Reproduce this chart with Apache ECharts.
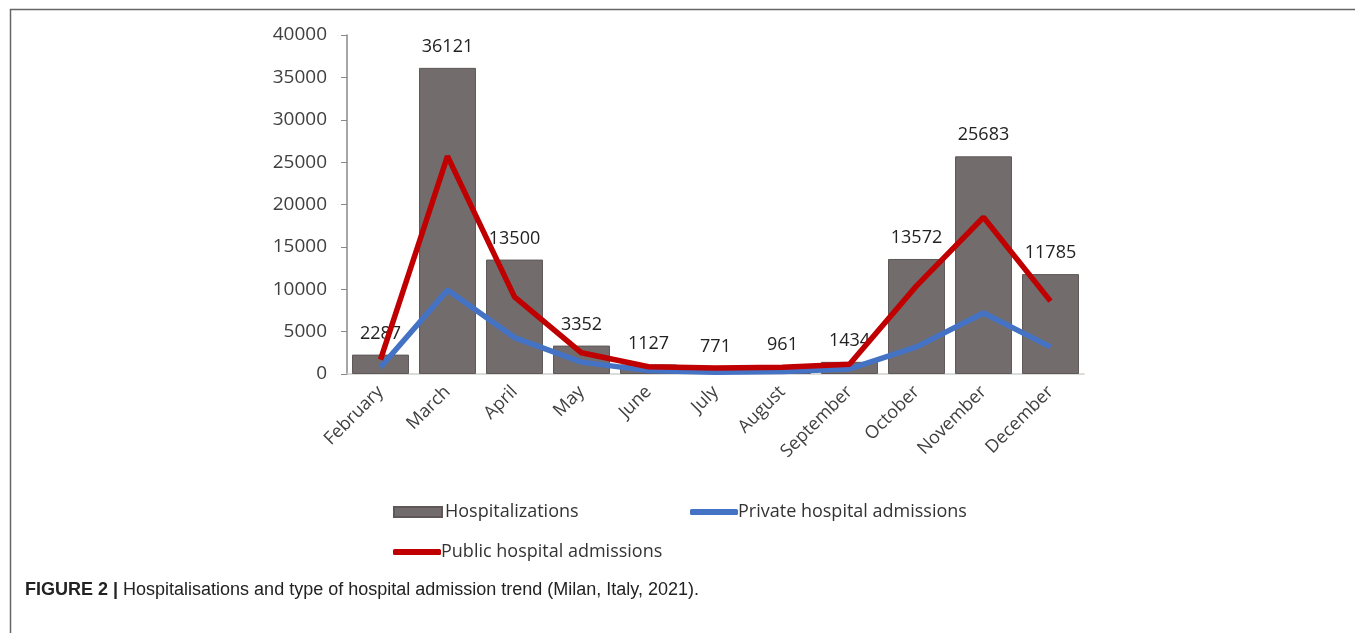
<!DOCTYPE html>
<html>
<head>
<meta charset="utf-8">
<script src="https://cdn.jsdelivr.net/npm/echarts@6/dist/echarts.min.js"></script>
<style>
html,body{margin:0;padding:0;background:#fff;}
#c{width:1355px;height:633px;}
</style>
</head>
<body>
<div id="c"></div>
<script>
const months = ['February','March','April','May','June','July','August','September','October','November','December'];
const hospitalizations = [2287, 36121, 13500, 3352, 1127, 771, 961, 1434, 13572, 25683, 11785];
const privateAdmissions = [800, 9900, 4300, 1400, 400, 200, 300, 600, 3200, 7200, 3200];
const publicAdmissions = [1700, 25700, 9100, 2500, 850, 700, 800, 1150, 10400, 18500, 8600];
const yTicks = [0, 5000, 10000, 15000, 20000, 25000, 30000, 35000, 40000];

const chart = echarts.init(document.getElementById('c'), null, {renderer:'canvas'});
const txt = '#404040';
const font = 'Open Sans';
chart.setOption({
  animation:false,
  grid:{left:347, right:271, top:35, height:339, containLabel:false},
  xAxis:{
    type:'category', data:months,
    axisLine:{lineStyle:{color:'#d0d0d0', width:1.5}},
    axisTick:{show:false},
    axisLabel:{rotate:45, margin:15, color:txt, fontSize:18, fontFamily:font, interval:0}
  },
  yAxis:{
    type:'value', min:yTicks[0], max:yTicks[yTicks.length-1], interval:5000,
    splitLine:{show:false},
    axisLine:{show:true, lineStyle:{color:'#888', width:1.5}},
    axisTick:{show:true, length:6, lineStyle:{color:'#888'}},
    axisLabel:{color:txt, fontSize:19, fontFamily:font, margin:20, formatter:v => String(v)}
  },
  legend:[
    {left:388, top:498, itemWidth:48, itemHeight:10, itemGap:8, data:[{name:'Hospitalizations', icon:'rect'}],
     textStyle:{color:'#333', fontSize:18, fontFamily:font, padding:[0,0,0,-2]}},
    {left:685, top:498, itemWidth:48, itemHeight:6, data:[{name:'Private hospital admissions', icon:'roundRect'}],
     textStyle:{color:'#333', fontSize:18, fontFamily:font, padding:[0,0,0,-5]}},
    {left:388, top:538, itemWidth:48, itemHeight:6, data:[{name:'Public hospital admissions', icon:'roundRect'}],
     textStyle:{color:'#333', fontSize:18, fontFamily:font, padding:[0,0,0,-5]}}
  ],
  title:{
    left:20, top:576,
    text:'{b|FIGURE 2 |} {n|Hospitalisations and type of hospital admission trend (Milan, Italy, 2021).}',
    textStyle:{rich:{
      b:{fontWeight:'bold', fontSize:18, color:'#222', fontFamily:'Liberation Sans Narrow, Liberation Sans, Arial'},
      n:{fontWeight:'normal', fontSize:18, color:'#222', fontFamily:'Liberation Sans Narrow, Liberation Sans, Arial'}
    }}
  },
  graphic:[{type:'rect', left:8, top:7, shape:{width:1347, height:700}, style:{fill:'none', stroke:'#666', lineWidth:1.5}, silent:true}],
  series:[
    {name:'Hospitalizations', type:'bar', data:hospitalizations, barWidth:'85%',
     itemStyle:{color:'#736c6c', borderColor:'#5e5858', borderWidth:1},
     label:{show:true, position:'top', distance:12, color:'#222', fontSize:18, fontFamily:font}},
    {name:'Private hospital admissions', type:'line', data:privateAdmissions, symbol:'none',
     lineStyle:{color:'#4472c4', width:5.5}, itemStyle:{color:'#4472c4'}},
    {name:'Public hospital admissions', type:'line', data:publicAdmissions, symbol:'none',
     lineStyle:{color:'#c00000', width:5.5}, itemStyle:{color:'#c00000'}}
  ]
});
</script>
</body>
</html>
